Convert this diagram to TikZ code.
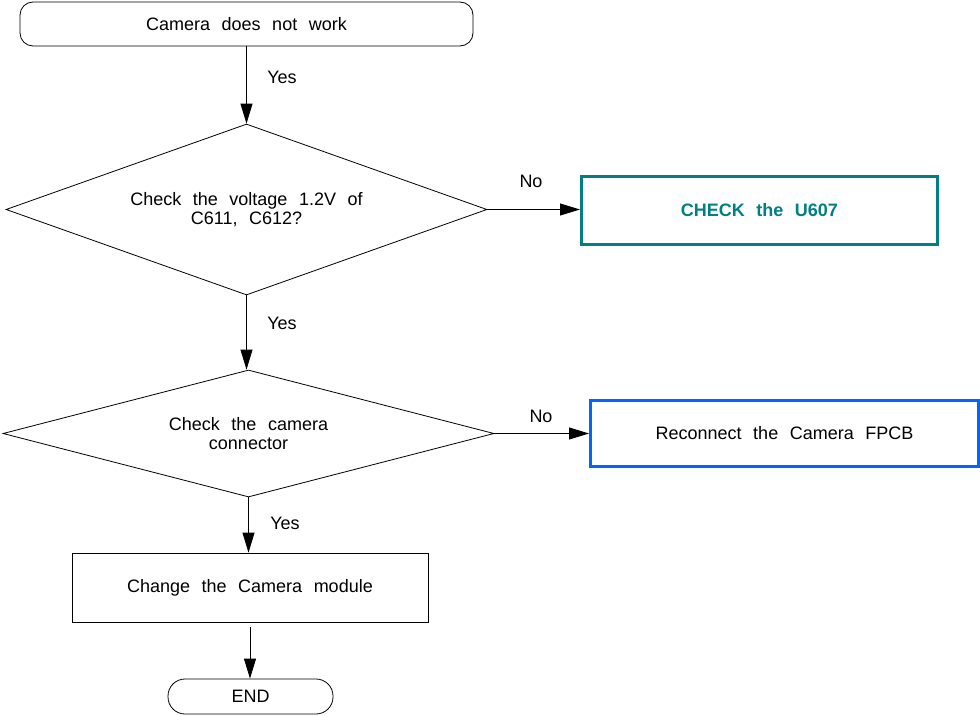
\documentclass[tikz,border=0pt]{standalone}
\usepackage{fontspec}
\setmainfont[WordSpace=2.3]{Liberation Sans}
\usetikzlibrary{shapes.geometric,arrows.meta}
\definecolor{tealc}{RGB}{0,128,128}
\definecolor{bluec}{RGB}{0,102,255}
\begin{document}
\begin{tikzpicture}[x=1pt,y=-1pt, font=\fontsize{18}{19}\selectfont,
  arr/.style={-{Triangle[length=20pt,width=12pt]}, line width=0.8pt},
  term/.style={draw, inner sep=0, line width=0.8pt},
  dec/.style={diamond, draw, inner sep=0, line width=0.8pt, align=center},
  proc/.style={draw, inner sep=0, line width=0.8pt},
  hiproc/.style={draw, inner sep=0, line width=3pt},
  lbl/.style={inner sep=0}
]
\useasboundingbox (0,0) rectangle (980,717);
\node[term, rounded corners=13pt, minimum width=453pt, minimum height=44pt] (start) at (246.5,24) {Camera does not work};
\node[dec, minimum width=481pt, minimum height=171pt, aspect=2.8] (d1) at (246.5,209.5) {Check the voltage 1.2V of\\C611, C612?};
\node[hiproc, draw=tealc, text=tealc, font=\fontsize{18}{19}\selectfont\bfseries, minimum width=356pt, minimum height=68pt] (chk) at (759.5,210.5) {CHECK the U607};
\node[dec, minimum width=491pt, minimum height=127pt, aspect=3.87] (d2) at (248.5,433.5) {Check the camera\\connector};
\node[hiproc, draw=bluec, minimum width=388pt, minimum height=66pt] (rec) at (784.5,433.5) {Reconnect the Camera FPCB};
\node[proc, minimum width=356pt, minimum height=69pt] (chg) at (250,587.5) {Change the Camera module};
\node[term, rounded corners=17pt, minimum width=165pt, minimum height=35pt] (fin) at (250.5,696.5) {END};

\draw[arr] (start.south) -- (start.south |- d1.north);
\draw[arr] (d1.east) -- (d1.east -| chk.west);
\draw[arr] (d1.south) -- (d1.south |- d2.north);
\draw[arr] (d2.east) -- (d2.east -| rec.west);
\draw[arr] (d2.south) -- (d2.south |- chg.north);
\draw[arr, shorten <=5pt] (chg.south) -- (chg.south |- fin.north);

\node[lbl] (y1) at (282,77) {Yes};
\node[lbl] (n1) at (531,181) {No};
\node[lbl] (y2) at (282,323) {Yes};
\node[lbl] (n2) at (541,416) {No};
\node[lbl] (y3) at (285,523) {Yes};
\end{tikzpicture}
\end{document}
